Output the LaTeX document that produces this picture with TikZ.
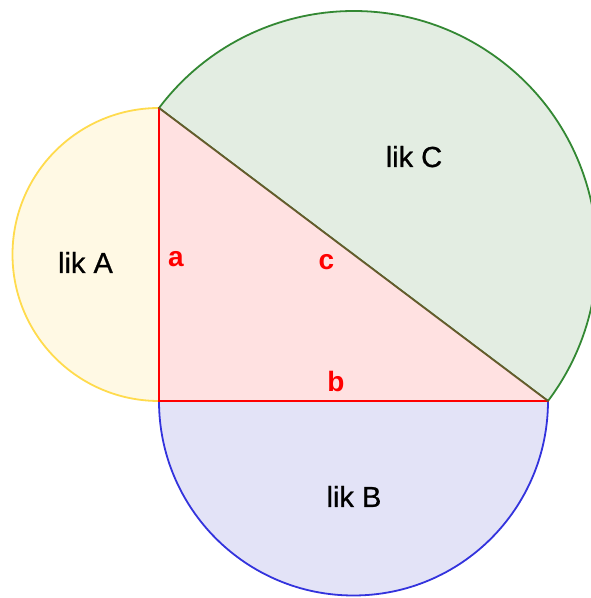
\documentclass[tikz,border=0pt]{standalone}
\usepackage{fontspec}
\setmainfont{Liberation Sans}
\newfontfamily\likfont{Liberation Sans}[FakeBold=0.8]
\definecolor{yfill}{HTML}{FFF9E4}
\definecolor{ystroke}{HTML}{FFDB4D}
\definecolor{pfill}{HTML}{FFE1E1}
\definecolor{gfill}{HTML}{E3EDE2}
\definecolor{gstroke}{HTML}{338833}
\definecolor{bfill}{HTML}{E3E3F7}
\definecolor{bstroke}{HTML}{3333DD}
\definecolor{hyp}{HTML}{665A2C}
\begin{document}
\begin{tikzpicture}[x=1pt,y=1pt,
  semi/.style={line width=1.8pt},
  edge/.style={line width=1.8pt, line cap=round},
  liklabel/.style={anchor=base, inner sep=0pt, font=\likfont\fontsize{29}{34}\selectfont},
  sidelabel/.style={anchor=base, inner sep=0pt, text=red, font=\fontsize{28}{34}\selectfont\bfseries}]
\useasboundingbox (0,0) rectangle (591,598);
\clip (0,0) rectangle (591,598);
\coordinate (T) at (159,490);
\coordinate (L) at (159,197);
\coordinate (R) at (548,197);
% semicircle A
\filldraw[semi, fill=yfill, draw=ystroke] (T) arc[start angle=90, end angle=270, radius=146.5] -- cycle;
% semicircle B
\filldraw[semi, fill=bfill, draw=bstroke] (L) arc[start angle=180, end angle=360, radius=194.5] -- cycle;
% semicircle C
\filldraw[semi, fill=gfill, draw=gstroke] (R) arc[start angle=-36.99, end angle=143.01, radius=243.5] -- cycle;
% triangle
\fill[pfill] (T) -- (L) -- (R) -- cycle;
\draw[edge, red] (T) -- (L) -- (R);
\draw[edge, hyp] (T) -- (R);
% labels
\node[liklabel] (lA) at (85.5,325) {lik A};
\node[liklabel] (lB) at (354,91) {lik B};
\node[liklabel] (lC) at (414,431) {lik C};
\node[sidelabel] (sa) at (176,331) {a};
\node[sidelabel] (sb) at (336,206) {b};
\node[sidelabel] (sc) at (326.5,328) {c};
\end{tikzpicture}
\end{document}
